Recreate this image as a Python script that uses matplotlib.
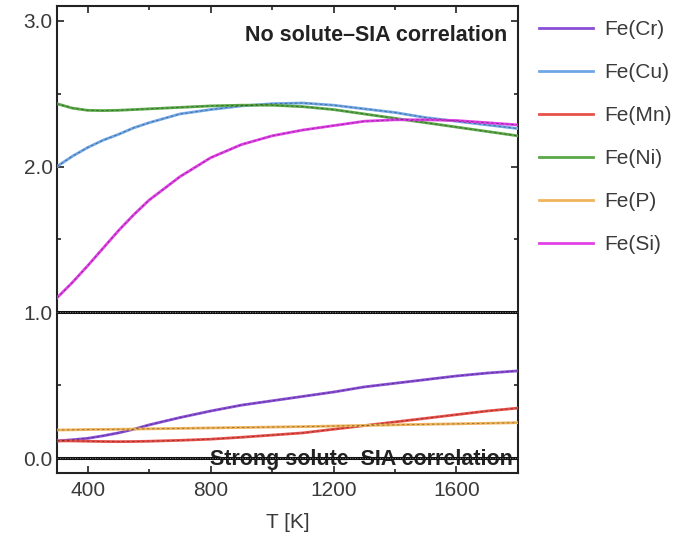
import matplotlib
matplotlib.use("Agg")
import matplotlib.pyplot as plt
from matplotlib.ticker import MultipleLocator, FormatStrFormatter

plt.rcParams['font.family'] = ['Liberation Sans', 'DejaVu Sans']

# temperature grid (K)
T = [300, 350, 400, 450, 500, 550, 600, 700, 800, 900, 1000, 1100, 1200, 1300, 1400, 1500, 1600, 1700, 1800]

fe_cr = [0.12, 0.128, 0.138, 0.155, 0.175, 0.20, 0.23, 0.28, 0.325, 0.365, 0.395, 0.425, 0.455, 0.49, 0.515, 0.54, 0.565, 0.585, 0.60]
fe_cu = [2.00, 2.07, 2.13, 2.18, 2.22, 2.265, 2.30, 2.36, 2.39, 2.415, 2.43, 2.435, 2.42, 2.395, 2.37, 2.335, 2.31, 2.285, 2.26]
fe_mn = [0.12, 0.12, 0.118, 0.116, 0.115, 0.116, 0.118, 0.124, 0.132, 0.145, 0.16, 0.175, 0.20, 0.225, 0.25, 0.275, 0.30, 0.325, 0.345]
fe_ni = [2.43, 2.40, 2.385, 2.383, 2.385, 2.39, 2.395, 2.405, 2.415, 2.42, 2.42, 2.41, 2.39, 2.36, 2.33, 2.30, 2.27, 2.24, 2.21]
fe_p = [0.195, 0.196, 0.198, 0.199, 0.20, 0.201, 0.203, 0.206, 0.209, 0.212, 0.215, 0.218, 0.222, 0.226, 0.23, 0.234, 0.237, 0.241, 0.245]
fe_si = [1.10, 1.205, 1.32, 1.44, 1.56, 1.67, 1.77, 1.93, 2.06, 2.15, 2.21, 2.25, 2.28, 2.31, 2.32, 2.32, 2.315, 2.30, 2.285]

labels = ["Fe(Cr)", "Fe(Cu)", "Fe(Mn)", "Fe(Ni)", "Fe(P)", "Fe(Si)"]
series = [fe_cr, fe_cu, fe_mn, fe_ni, fe_p, fe_si]
colors = ["#8a4fd6", "#6fa6e6", "#e8504a", "#5aa848", "#f0b45a", "#e040e6"]

fig = plt.figure(figsize=(6.86, 5.40), dpi=100)
ax = fig.add_axes([0.083, 0.124, 0.672, 0.865])

# reference lines at 0 and 1
for yv in (0.0, 1.0):
    ax.axhline(yv, color="#111111", lw=2.2, zorder=3)
    ax.axhline(yv, color="white", lw=0.6, ls=(0, (1, 2)), alpha=0.6, zorder=3)

for vals, lab, col in zip(series, labels, colors):
    ax.plot(T, vals, color=col, lw=2.0, label=lab, zorder=4)
    ax.plot(T, vals, color="black", lw=0.6, ls=(0, (3, 3)), alpha=0.4, zorder=5)

ax.set_xlim(300, 1800)
ax.set_ylim(-0.1, 3.1)

ax.xaxis.set_major_locator(MultipleLocator(400))
ax.xaxis.set_minor_locator(MultipleLocator(200))
ax.yaxis.set_major_locator(MultipleLocator(1.0))
ax.yaxis.set_minor_locator(MultipleLocator(0.5))
ax.yaxis.set_major_formatter(FormatStrFormatter("%.1f"))

ax.tick_params(which="both", direction="in", top=True, right=True,
               labelsize=15, labelcolor="#3a3a3a", color="#222222", width=1.2)
ax.tick_params(which="major", length=5)
ax.tick_params(which="minor", length=3)
ax.tick_params(axis="x", which="major", pad=6)
ax.tick_params(axis="y", which="major", pad=3)
for sp in ax.spines.values():
    sp.set_linewidth(1.5)
    sp.set_color("#222222")

ax.set_xlabel("T [K]", fontsize=15, color="#3a3a3a", labelpad=9)

ax.text(1765, 2.90, "No solute\u2013SIA correlation", ha="right", va="center",
        fontsize=15.5, fontweight="bold", color="#222222", zorder=6)
ax.text(1782, -0.005, "Strong solute\u2013SIA correlation", ha="right", va="center",
        fontsize=15.5, fontweight="bold", color="#222222", zorder=2)

leg = ax.legend(loc="upper left", bbox_to_anchor=(1.005, 1.01), frameon=False,
                fontsize=15, handlelength=2.6, handletextpad=0.55, labelspacing=1.15)
for t in leg.get_texts():
    t.set_color("#3a3a3a")
for h in leg.get_lines():
    h.set_linewidth(2.0)

fig.savefig("out.png", dpi=100)
